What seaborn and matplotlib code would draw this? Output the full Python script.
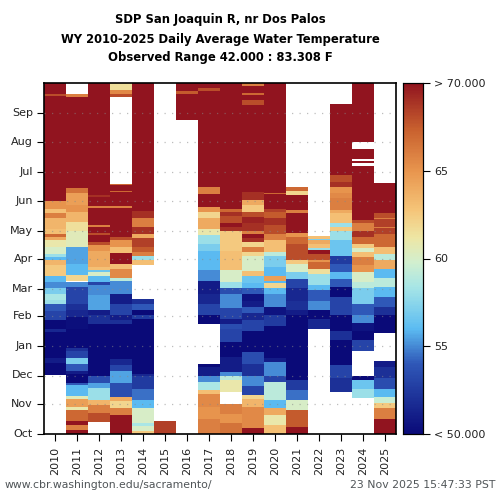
import numpy as np
import pandas as pd
import matplotlib
matplotlib.use("Agg")
import matplotlib.pyplot as plt
from matplotlib.colors import LinearSegmentedColormap
import seaborn as sns

sns.set_theme(style="white")
plt.rcParams["font.family"] = ["DejaVu Sans"]

MISSING = None

# each year: (last day of the band counted from Oct 1, temperature in F)
wy2010 = [(62, MISSING), (74, 49), (79, 51), (106, 49), (110, 51.5), (119, 49), (128, 53), (136, 54), (140, 58),
          (146, 58.5), (152, 57), (158, 55), (165, 56), (176, 62.5), (181, 63.5), (185, 56), (188, 58), (195, 60),
          (202, 61), (205, 64), (209, 67), (214, 63), (225, 63.5), (230, 66), (235, 63), (243, 65), (352, 71),
          (355, 68), (366, 71)]
wy2011 = [(4, 70), (9, 66), (14, 70), (25, 67), (28, 61), (36, 64.5), (40, 60.5), (51, 56), (53, 54), (63, 49),
          (66, 51), (73, 54), (79, 57), (87, 53), (90, 52), (110, 49), (122, 50.3), (129, 51.5), (136, 52), (153, 53),
          (158, 55), (160, MISSING), (166, 62), (177, 56), (195, 55.5), (212, 60.5), (221, 61.5), (232, 63.5),
          (239, 65), (251, 64.5), (256, 66.5), (351, 71), (355, 66), (366, MISSING)]
wy2012 = [(12, MISSING), (22, 68), (30, 66), (35, 63.5), (48, 58), (53, 55.5), (60, 53.5), (115, 49), (124, 52),
          (129, 51), (145, 55.5), (155, 55), (158, 53), (165, 56), (169, 60), (171, 56.5), (174, 63), (191, 64),
          (197, 65), (200, 68), (208, 71), (210, 68), (216, 71), (218, 66), (236, 71), (238, 66), (247, 71), (249, 69), (366, 71)]
wy2013 = [(20, 70), (27, 66), (34, 62), (39, 64), (53, 53.5), (66, 55.5), (72, 53), (78, 51.5), (115, 49), (119, 52),
          (124, 51), (136, 53), (146, 51), (160, 55), (163, 59), (172, 65.5), (177, 63), (189, 70), (195, 63),
          (202, 65), (205, 68), (236, 71), (238, 66), (252, 71), (253, 67), (260, 71), (261, 67), (351, MISSING),
          (355, 68), (359, 65.5), (366, 61.5)]
wy2014 = [(3, 62.5), (8, 60), (11, 58.5), (27, 60), (35, 56), (47, 54.5), (60, 52.5), (63, 51.5), (120, 49), (124, 52.5),
          (129, 49), (136, 54), (141, 52), (176, MISSING), (181, 63), (186, 58), (190, 66), (195, 67.5), (204, 68.5),
          (209, 64), (216, 69), (225, 66), (233, 69), (366, 71)]
wy2015 = [(14, 68.5), (366, MISSING)]
wy2016 = [(327, MISSING), (355, 71), (358, 67.5), (366, 71)]
wy2017 = [(16, 66), (28, 65), (42, 65.5), (46, 63), (54, 58.5), (61, 55), (70, 51), (73, 49), (115, MISSING),
          (124, 49), (136, 53), (146, 51.5), (160, 51), (171, 55), (191, 56), (198, 57), (208, 58), (214, 61),
          (225, 64), (232, 62), (237, 65), (241, 70), (250, 71), (258, 66), (358, 71), (361, 68), (366, 70)]
wy2018 = [(11, 66.5), (21, 65), (31, 66), (44, MISSING), (56, 61), (60, 59), (65, 55), (80, 51), (96, 49), (110, 53),
          (115, 53.5), (120, 51), (131, 53), (146, 55), (152, 53.5), (158, 58), (171, 60), (191, 63), (212, 62.5),
          (216, 69), (220, 70), (227, 68), (232, 69), (235, 67), (243, 71), (366, 71)]
wy2019 = [(6, 70), (28, 65.5), (37, 63.5), (41, 62), (50, 53), (60, 55), (73, 52), (85, 53.5), (107, 49), (119, 53),
          (126, 51.5), (132, 54), (139, 51), (146, 50.5), (152, 54), (157, 56), (165, 56.5), (170, 63), (177, 60),
          (186, 60), (190, 62), (195, 66), (200, 62), (204, 69), (209, 70), (212, 66), (220, 69), (226, 69.5),
          (232, 68), (239, 62.5), (244, 64), (252, 69), (343, 71), (348, 68), (353, 71), (356, 67), (363, 71), (366, 66)]
wy2020 = [(9, 63), (20, 61), (27, 64), (35, 56), (54, 59), (61, 53), (75, 55), (79, 51), (113, 49), (124, 52.5),
          (132, 50.5), (146, 55), (152, 56), (157, 62), (160, 56), (165, 64.5), (174, 56), (186, 57), (190, 59),
          (202, 63), (209, 66), (218, 68), (225, 69), (232, 67.5), (235, 68.5), (250, 71), (251, 67), (366, 71)]
wy2021 = [(7, 70), (25, 67.5), (35, 60), (46, 54.5), (56, 52.5), (124, 49), (129, 51), (139, 52), (152, 51.5),
          (162, 53), (169, 57), (177, 60), (181, 62.5), (198, 68), (205, 67), (210, 65), (230, 71), (234, 66),
          (249, 71), (253, 62), (258, 67), (366, MISSING)]
wy2022 = [(109, MISSING), (120, 51.5), (129, 49), (139, 55), (150, 54), (155, 56), (167, 58), (172, 61.5), (179, 67),
          (181, 65), (188, 68), (192, 70), (194, 58), (198, 63), (202, 64), (203, 57), (206, 63), (366, MISSING)]
wy2023 = [(44, MISSING), (58, 52), (72, 53), (98, 49), (107, 52), (124, 49), (143, 53), (153, 49), (162, 54), (169, 56),
          (177, 54), (186, 52.5), (202, 56.5), (212, 58), (216, 62.5), (220, 58), (230, 63), (234, 64), (246, 66),
          (251, 65.5), (258, 65), (263, 69), (270, 68), (344, 71), (366, MISSING)]
wy2024 = [(38, MISSING), (47, 58), (56, 56.5), (60, 49), (87, MISSING), (98, 53), (107, 49), (116, 50.5), (124, 55),
          (136, 54), (152, 57), (158, 59), (169, 60), (176, 65), (185, 66), (190, 63), (194, 60), (198, 62.5),
          (205, 67), (212, 69), (220, 66), (223, 68), (279, 71), (283, MISSING), (285, 71), (287, MISSING),
          (297, 71), (305, MISSING), (366, 71)]
wy2025 = [(16, 70), (27, 66), (32, 62.5), (39, 59.5), (47, 56), (58, 53.5), (70, 52), (76, 51), (105, MISSING),
          (124, 49), (132, 52), (143, 54), (153, 56), (163, 59), (172, 56), (181, 64), (188, 59), (195, 63), (209, 67),
          (215, 68.5), (216, 66), (224, 68.5), (225, 66), (230, 68), (262, 71), (366, MISSING)]

years = list(range(2010, 2026))
year_bands = [wy2010, wy2011, wy2012, wy2013, wy2014, wy2015, wy2016, wy2017,
              wy2018, wy2019, wy2020, wy2021, wy2022, wy2023, wy2024, wy2025]

months = ["Oct", "Nov", "Dec", "Jan", "Feb", "Mar", "Apr", "May", "Jun", "Jul", "Aug", "Sep"]
month_days = [0, 31, 61, 92, 123, 151, 182, 212, 243, 273, 304, 335]

cbar_ticks = [50, 55, 60, 65, 70]
cbar_labels = ["< 50.000", "55", "60", "65", "> 70.000"]

colors = ["#0a0a78", "#2f58b8", "#5cbcf2", "#a8e6e6", "#d2efce", "#eee6a4",
          "#f5c478", "#e8954e", "#c8602e", "#91141f"]
stops = [0.0, 0.2, 0.3, 0.42, 0.49, 0.56, 0.64, 0.75, 0.87, 1.0]
cmap = LinearSegmentedColormap.from_list("wt", list(zip(stops, colors)))
cmap.set_bad("white")


def expand(bands):
    col = np.full(366, np.nan)
    start = 0
    for end, temp in bands:
        if temp is not None:
            col[start:end] = temp
        start = end
    return col


df = pd.DataFrame({y: expand(b) for y, b in zip(years, year_bands)})

fig = plt.figure(figsize=(5, 5), dpi=100)
ax = fig.add_axes([44 / 500, 1 - 434 / 500, 352 / 500, 351 / 500])
cax = fig.add_axes([403 / 500, 1 - 434 / 500, 20 / 500, 351 / 500])

sns.heatmap(df, ax=ax, cbar_ax=cax, cmap=cmap, vmin=50, vmax=70, rasterized=True)
ax.invert_yaxis()

ax.set_yticks(month_days)
ax.set_yticklabels(months, rotation=0, fontsize=8, color="#222222")
ax.set_xticks(np.arange(len(years)) + 0.5)
ax.set_xticklabels(years, rotation=90, fontsize=8, color="#222222")
ax.tick_params(axis="both", length=5, width=0.8, color="black", pad=3, bottom=True, left=True)
ax.tick_params(axis="x", pad=4)
ax.set_xlabel("")
ax.set_ylabel("")

# dotted month lines over the cells
for d in month_days[1:]:
    ax.axhline(d, color="#888888", lw=0.9, ls=(0, (1, 5)), alpha=0.55, zorder=5)

for s in ax.spines.values():
    s.set_visible(True)
    s.set_color("black")
    s.set_linewidth(1.2)

cax.set_yticks(cbar_ticks)
cax.set_yticklabels(cbar_labels, fontsize=8, color="#222222")
cax.tick_params(axis="y", length=5, width=0.8, color="black", right=True, pad=3)
for s in cax.spines.values():
    s.set_visible(True)
    s.set_color("black")
    s.set_linewidth(0.8)

title_lines = ["SDP San Joaquin R, nr Dos Palos",
               "WY 2010-2025 Daily Average Water Temperature",
               "Observed Range 42.000 : 83.308 F"]
for line, y in zip(title_lines, [20, 39, 58]):
    fig.text(220 / 500, 1 - y / 500, line, ha="center", va="center", fontsize=9.3,
             fontweight="bold", color="black", stretch="condensed")

fig.text(5 / 500, 1 - 485 / 500, "www.cbr.washington.edu/sacramento/", ha="left", va="center",
         fontsize=7.8, color="#505558")
fig.text(495 / 500, 1 - 485 / 500, "23 Nov 2025 15:47:33 PST", ha="right", va="center",
         fontsize=7.8, color="#505558")

fig.savefig("out.png", dpi=100)
